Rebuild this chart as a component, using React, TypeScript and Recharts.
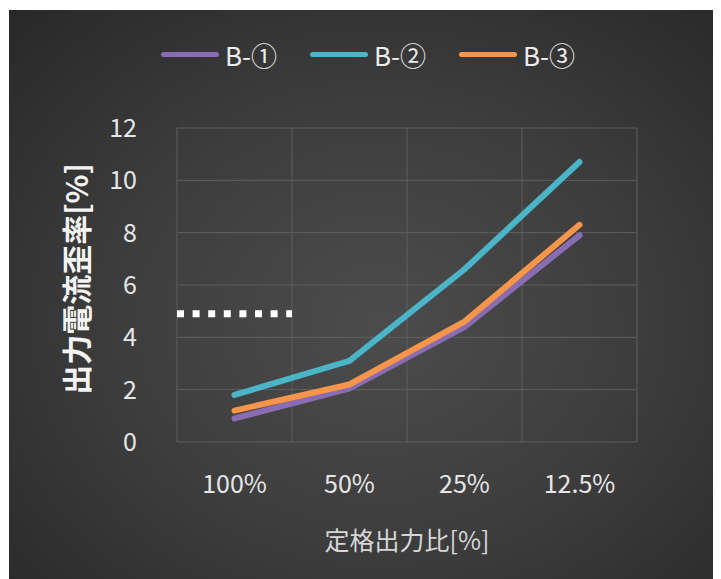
import {
  LineChart, Line, XAxis, YAxis, CartesianGrid, Legend, ReferenceLine, Label,
} from 'recharts'

// ─── Data ─────────────────────────────────────────────────────────────────────

const categories = ['100%', '50%', '25%', '12.5%']
const seriesNames = ['B-①', 'B-②', 'B-③']
const seriesB1 = [0.9, 2.05, 4.4, 7.9]
const seriesB2 = [1.8, 3.1, 6.6, 10.7]
const seriesB3 = [1.2, 2.2, 4.6, 8.3]
const yTicks = [0, 2, 4, 6, 8, 10, 12]
const limitValue = 4.9
const limitSpan = [0, 1] // first category slot, in slot units (0..4)

const colors = ['#8a6cb3', '#4bb4c8', '#f7964a']
const FONT = '"Noto Sans CJK JP", "Noto Sans", sans-serif'

const chartData = categories.map((c, i) => ({
  ratio: c,
  slot: i + 0.5, // centre of the category slot, for the hidden numeric axis
  b1: seriesB1[i],
  b2: seriesB2[i],
  b3: seriesB3[i],
}))

// ─── Legend ───────────────────────────────────────────────────────────────────

function TopLegend() {
  return (
    <div style={{ display: 'flex', justifyContent: 'center', alignItems: 'center', height: 32, gap: 23, paddingLeft: 16, fontFamily: FONT }}>
      {seriesNames.map((name, i) => (
        <div key={name} style={{ display: 'flex', alignItems: 'center', gap: 6 }}>
          <span style={{ width: 58, height: 5, borderRadius: 3, background: colors[i] }} />
          <span style={{ fontSize: 26, color: '#ececec', width: 62, whiteSpace: 'nowrap' }}>{name}</span>
        </div>
      ))}
    </div>
  )
}

// ─── Component ────────────────────────────────────────────────────────────────

export default function App() {
  return (
    <div
      style={{
        marginLeft: 1,
        marginTop: 2,
        width: 712,
        height: 569,
        background: 'radial-gradient(ellipse at 52% 55%, #4c4c4c 0%, #3d3d3d 50%, #282828 100%)',
      }}
    >
      <LineChart width={712} height={569} data={chartData} margin={{ top: 86, right: 84, left: 0, bottom: 0 }}>
        <CartesianGrid
          stroke="#5f5f5f"
          strokeWidth={1}
          verticalCoordinatesGenerator={({ offset }: any) =>
            categories.concat('').map((_, i) => offset.left + (i * offset.width) / categories.length)
          }
        />
        <XAxis
          dataKey="ratio"
          padding={{ left: 57.5, right: 57.5 }}
          axisLine={false}
          tickLine={false}
          tickSize={0}
          tickMargin={33}
          height={137}
          tick={{ fontSize: 25, fill: '#e6e6e6', fontFamily: FONT }}
        >
          <Label value="定格出力比[%]" position="insideBottom" offset={29} fill="#d6d6d6" fontSize={25} fontFamily={FONT} />
        </XAxis>
        <XAxis xAxisId="num" dataKey="slot" type="number" domain={[0, categories.length]} allowDataOverflow hide />
        <YAxis
          domain={[0, 12]}
          ticks={yTicks}
          width={168}
          axisLine={false}
          tickLine={false}
          tickSize={0}
          tickMargin={40}
          tick={{ fontSize: 25, fill: '#e6e6e6', fontFamily: FONT }}
        >
          <Label
            content={({ viewBox }: any) => (
              <text
                x={viewBox.x + 66}
                y={viewBox.y + viewBox.height / 2 - 6}
                transform={`rotate(-90 ${viewBox.x + 66} ${viewBox.y + viewBox.height / 2 - 6})`}
                textAnchor="middle"
                dominantBaseline="central"
                fill="#f4f4f4"
                fontSize={30}
                fontWeight="bold"
                fontFamily={FONT}
              >
                出力電流歪率[%]
              </text>
            )}
          />
        </YAxis>
        <Legend verticalAlign="top" content={<TopLegend />} wrapperStyle={{ top: 28, left: 0, width: 712 }} />
        <ReferenceLine
          xAxisId="num"
          segment={[{ x: limitSpan[0], y: limitValue }, { x: limitSpan[1], y: limitValue }]}
          stroke="#ffffff"
          strokeWidth={7}
          strokeDasharray="7 8.6"
        />
        <Line dataKey="b1" name={seriesNames[0]} stroke={colors[0]} strokeWidth={6} strokeLinecap="round" dot={false} isAnimationActive={false} />
        <Line dataKey="b2" name={seriesNames[1]} stroke={colors[1]} strokeWidth={6} strokeLinecap="round" dot={false} isAnimationActive={false} />
        <Line dataKey="b3" name={seriesNames[2]} stroke={colors[2]} strokeWidth={6} strokeLinecap="round" dot={false} isAnimationActive={false} />
      </LineChart>
    </div>
  )
}
